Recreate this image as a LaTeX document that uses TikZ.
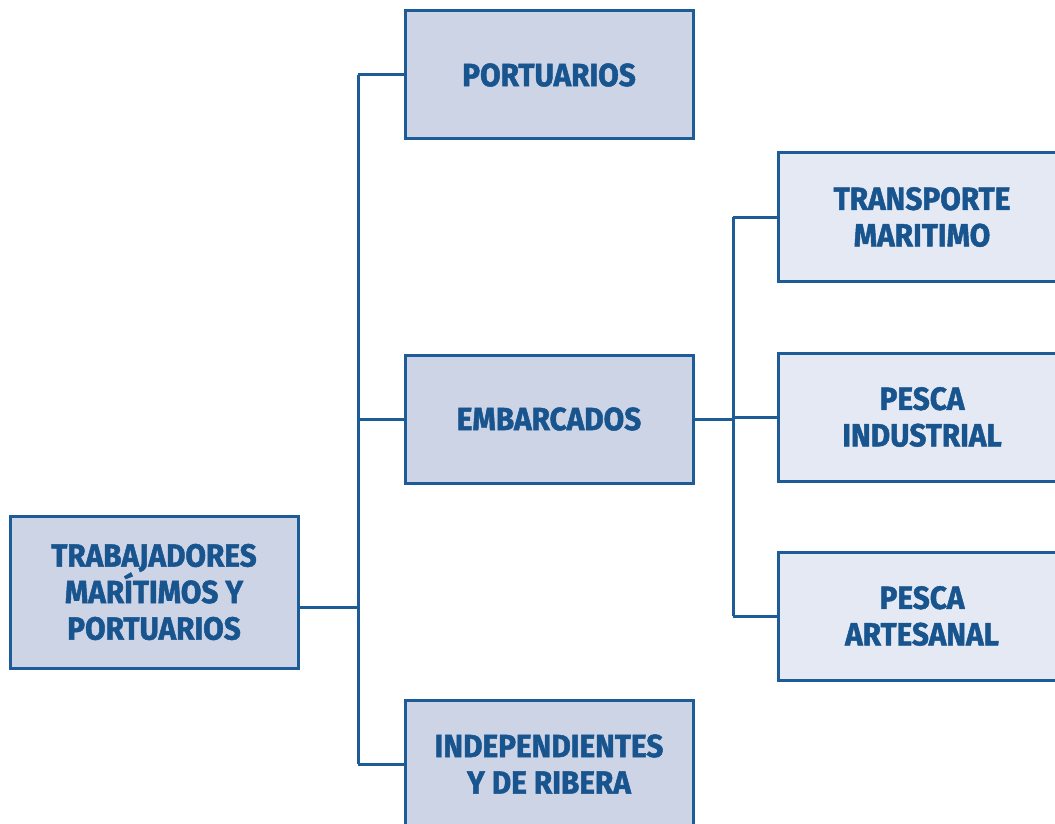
\documentclass[tikz,border=0pt]{standalone}
\usepackage{fontspec}
\setmainfont{Fira Sans}[FakeStretch=0.93,BoldFeatures={FakeBold=1.5}]
\usetikzlibrary{positioning}
\definecolor{borde}{HTML}{1D5C97}
\definecolor{relleno}{HTML}{CDD4E6}
\definecolor{rellenob}{HTML}{E5E9F3}
\definecolor{letra}{HTML}{18548E}
\begin{document}
\begin{tikzpicture}[x=1pt,y=-1pt,line join=miter,line cap=butt,
	caja/.style={draw=borde,line width=3pt,fill=relleno,minimum width=288pt,minimum height=128pt,
		align=center,text=letra,inner sep=0pt,font=\fontsize{32}{36.5}\selectfont\bfseries},
	cajab/.style={caja,fill=rellenob},
	linea/.style={draw=borde,line width=3pt}]
	\useasboundingbox (0,0) rectangle (1055,824);
	\clip (0,0) rectangle (1055,824);
	% primer nivel
	\node[caja,minimum height=152pt] (raiz) at (154,592) {TRABAJADORES\\MARÍTIMOS Y\\PORTUARIOS};
	\node[caja] (port) at (549,75) {PORTUARIOS};
	\node[caja] (emb) at (549,419) {EMBARCADOS};
	\node[caja] (indep) at (549,764) {INDEPENDIENTES\\Y DE RIBERA};
	% segundo nivel
	\node[cajab] (trans) at (922,217) {TRANSPORTE\\MARITIMO};
	\node[cajab] (indus) at (922,417) {PESCA\\INDUSTRIAL};
	\node[cajab] (arte) at (922,616) {PESCA\\ARTESANAL};
	% conectores
	\coordinate (r1) at (358,607);
	\coordinate (e1) at (733,419);
	\draw[linea] (raiz.east |- r1) -- (r1);
	\draw[linea] (r1 |- port.west) -- (r1 |- indep.west);
	\foreach \n in {port,emb,indep}{
		\draw[linea] (r1 |- \n.west) -- (\n.west);}
	\draw[linea] (emb.east) -- (e1);
	\draw[linea] (e1 |- trans.west) -- (e1 |- arte.west);
	\foreach \n in {trans,indus,arte}{
		\draw[linea] (e1 |- \n.west) -- (\n.west);}
\end{tikzpicture}
\end{document}
